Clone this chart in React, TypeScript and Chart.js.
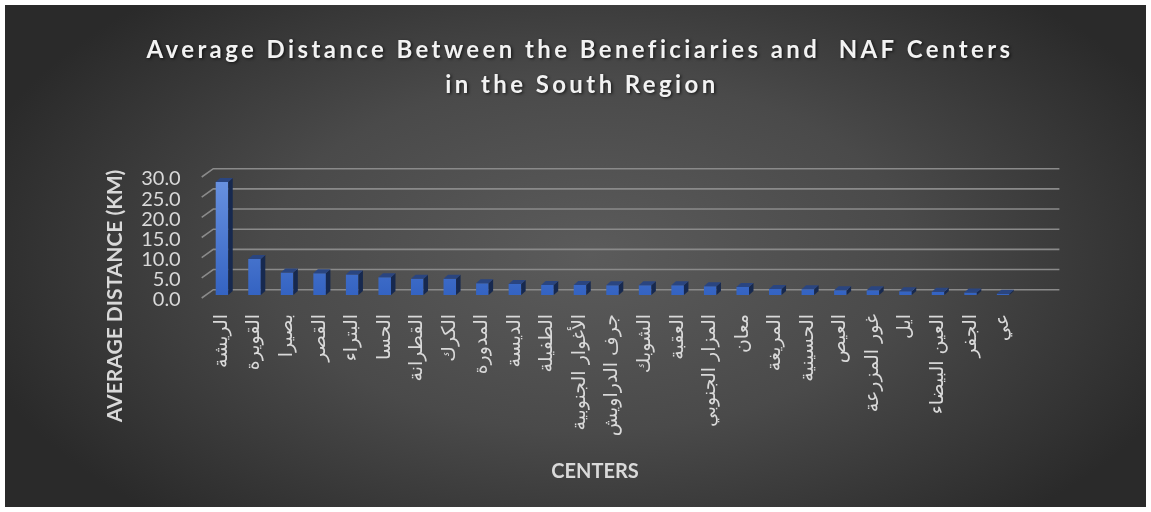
import React, { useEffect, useRef } from "react";
import { Chart, registerables } from "chart.js";

Chart.register(...registerables);

const titleLines = [
  "Average Distance Between the Beneficiaries and  NAF Centers",
  "in the South Region",
];
const yAxisTitle = "AVERAGE DISTANCE (KM)";
const xAxisTitle = "CENTERS";

const centers = [
  "الريشة",
  "القويرة",
  "بصيرا",
  "القصر",
  "البتراء",
  "الحسا",
  "القطرانة",
  "الكرك",
  "المدورة",
  "الديسة",
  "الطفيلة",
  "الأغوار الجنوبية",
  "جرف الدراويش",
  "الشوبك",
  "العقبة",
  "المزار الجنوبي",
  "معان",
  "المريغة",
  "الحسينية",
  "العيص",
  "غور المزرعة",
  "ايل",
  "العين البيضاء",
  "الجفر",
  "عي",
];

const averageDistanceKm = [
  28.0, 8.9, 5.6, 5.4, 5.1, 4.4, 4.0, 4.0, 2.9, 2.7, 2.5, 2.5, 2.4, 2.4, 2.4,
  2.2, 2.0, 1.5, 1.4, 1.2, 1.2, 0.9, 0.8, 0.6, 0.3,
];

const yMin = 0;
const yMax = 30;
const yStep = 5;

const W = 1151;
const H = 512;

const backgroundPlugin = {
  id: "bgPlugin",
  beforeDraw(chart: any) {
    const ctx = chart.ctx as CanvasRenderingContext2D;
    ctx.save();
    ctx.fillStyle = "#ffffff";
    ctx.fillRect(0, 0, W, H);
    const cx = 590;
    const cy = 255;
    ctx.translate(cx, cy);
    ctx.scale(1, 0.55);
    const g = ctx.createRadialGradient(0, 0, 0, 0, 0, 640);
    g.addColorStop(0, "#5b5b5b");
    g.addColorStop(0.5, "#4a4a4a");
    g.addColorStop(1, "#2a2a2a");
    ctx.fillStyle = g;
    ctx.fillRect(5 - cx, (5 - cy) / 0.55, W - 10, (H - 10) / 0.55);
    ctx.restore();
  },
};

const gridPlugin = {
  id: "grid3d",
  beforeDatasetsDraw(chart: any) {
    const ctx = chart.ctx as CanvasRenderingContext2D;
    const y = chart.scales.y;
    const area = chart.chartArea;
    ctx.save();
    ctx.strokeStyle = "#8a8a8a";
    ctx.lineWidth = 1.6;
    y.ticks.forEach((t: any) => {
      const yp = y.getPixelForValue(t.value);
      ctx.beginPath();
      ctx.moveTo(area.left - 4, yp + 3);
      ctx.lineTo(area.left + 7.6, yp - 5.3);
      ctx.lineTo(area.right + 40, yp - 5.3);
      ctx.stroke();
    });
    ctx.restore();
  },
};

const bar3dPlugin = {
  id: "bar3d",
  afterDatasetsDraw(chart: any) {
    const ctx = chart.ctx as CanvasRenderingContext2D;
    const meta = chart.getDatasetMeta(0);
    const dx = 4.5;
    const dy = -4;
    ctx.save();
    meta.data.forEach((bar: any) => {
      const { x, y, base, width } = bar.getProps(["x", "y", "base", "width"], true);
      const l = x - width / 2;
      const r = x + width / 2;
      ctx.fillStyle = "#17294f";
      ctx.beginPath();
      ctx.moveTo(r, y);
      ctx.lineTo(r + dx, y + dy);
      ctx.lineTo(r + dx, base + dy);
      ctx.lineTo(r, base);
      ctx.closePath();
      ctx.fill();
      ctx.fillStyle = "#2a4580";
      ctx.beginPath();
      ctx.moveTo(l, y);
      ctx.lineTo(l + dx, y + dy);
      ctx.lineTo(r + dx, y + dy);
      ctx.lineTo(r, y);
      ctx.closePath();
      ctx.fill();
    });
    ctx.restore();
  },
};

const textPlugin = {
  id: "texts",
  afterDraw(chart: any) {
    const ctx = chart.ctx as CanvasRenderingContext2D;
    ctx.save();
    ctx.fillStyle = "#f2f2f2";
    ctx.textAlign = "center";
    ctx.textBaseline = "middle";
    ctx.font = "bold 24px Lato, 'Open Sans', sans-serif";
    (ctx as any).letterSpacing = "3.4px";
    ctx.shadowColor = "rgba(0,0,0,0.65)";
    ctx.shadowBlur = 3;
    ctx.shadowOffsetX = 1.5;
    ctx.shadowOffsetY = 1.5;
    ctx.fillText(titleLines[0], 580, 50);
    ctx.fillText(titleLines[1], 582, 85);
    ctx.restore();

    ctx.save();
    ctx.fillStyle = "#d9d9d9";
    ctx.textAlign = "center";
    ctx.textBaseline = "middle";
    ctx.font = "bold 20px Lato, 'Open Sans', sans-serif";
    ctx.fillText(xAxisTitle, 595, 472);
    ctx.font = "bold 21px Lato, 'Open Sans', sans-serif";
    ctx.translate(115, 296);
    ctx.rotate(-Math.PI / 2);
    ctx.fillText(yAxisTitle, 0, 0);
    ctx.restore();
  },
};

export default function App() {
  const canvasRef = useRef<HTMLCanvasElement | null>(null);

  useEffect(() => {
    document.body.style.margin = "0";
    const canvas = canvasRef.current;
    if (!canvas) return;
    const chart = new Chart(canvas, {
      type: "bar",
      data: {
        labels: centers,
        datasets: [
          {
            label: "Average Distance (km)",
            data: averageDistanceKm,
            backgroundColor: (c: any) => {
              const area = c.chart.chartArea;
              if (!area) return "#4a78d0";
              const g = c.chart.ctx.createLinearGradient(0, area.top, 0, area.bottom);
              g.addColorStop(0, "#6b94e2");
              g.addColorStop(1, "#3463c2");
              return g;
            },
            borderWidth: 0,
            barPercentage: 0.385,
            categoryPercentage: 1,
          },
        ],
      },
      options: {
        responsive: false,
        animation: false,
        events: [],
        layout: {
          padding: { top: 174, right: 131.6, bottom: 0, left: 0 },
        },
        plugins: {
          legend: { display: false },
          title: { display: false },
          tooltip: { enabled: false },
        },
        scales: {
          x: {
            afterFit: (s: any) => {
              s.height = 217;
            },
            grid: { display: false, drawTicks: false },
            border: { display: false },
            ticks: {
              autoSkip: false,
              minRotation: 90,
              maxRotation: 90,
              padding: 19,
              color: "#d9d9d9",
              font: { family: "'DejaVu Sans', sans-serif", size: 19 },
            },
          },
          y: {
            min: yMin,
            max: yMax,
            afterFit: (s: any) => {
              s.width = 205.7;
            },
            grid: { display: false, drawTicks: false },
            border: { display: false },
            ticks: {
              autoSkip: false,
              stepSize: yStep,
              padding: 25,
              labelOffset: 5,
              color: "#d9d9d9",
              font: { family: "Lato, 'Open Sans', sans-serif", size: 20 },
              callback: (v: any) => Number(v).toFixed(1),
            },
          },
        },
      },
      plugins: [backgroundPlugin, gridPlugin, bar3dPlugin, textPlugin],
    });
    return () => chart.destroy();
  }, []);

  return (
    <div style={{ width: W, height: H }}>
      <canvas ref={canvasRef} width={W} height={H} style={{ display: "block" }} />
    </div>
  );
}
